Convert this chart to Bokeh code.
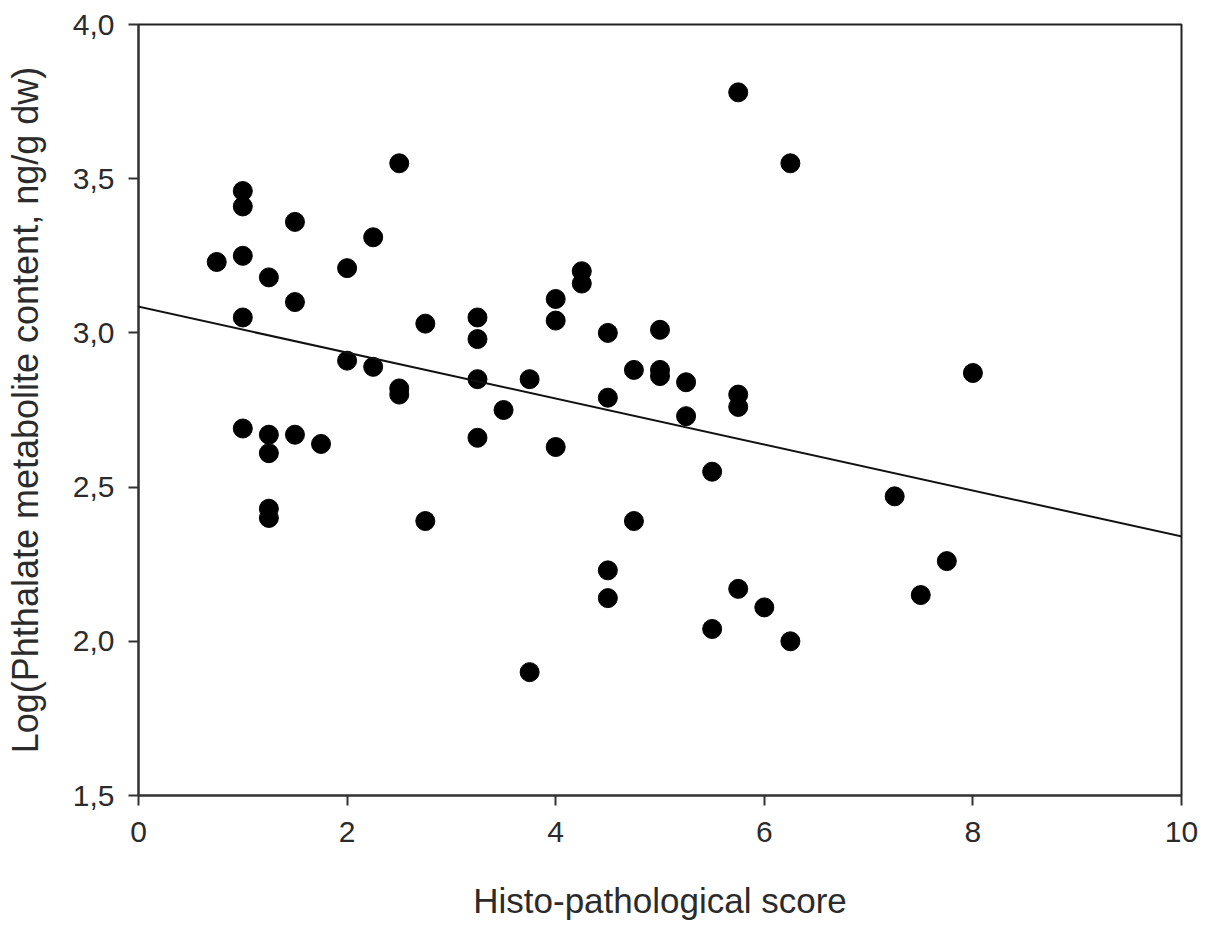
from bokeh.plotting import figure
from bokeh.models import FixedTicker, Slope, Range1d
from bokeh.embed import file_html
from bokeh.resources import INLINE

# Data
score = [0.75, 1.0, 1.0, 1.0, 1.0, 1.0,
         1.25, 1.25, 1.25, 1.25, 1.25,
         1.5, 1.5, 1.5, 1.75,
         2.0, 2.0, 2.25, 2.25,
         2.5, 2.5, 2.5, 2.75, 2.75,
         3.25, 3.25, 3.25, 3.25, 3.5,
         3.75, 3.75, 4.0, 4.0, 4.0,
         4.25, 4.25, 4.5, 4.5, 4.5, 4.5,
         4.75, 4.75, 5.0, 5.0, 5.0,
         5.25, 5.25, 5.5, 5.5,
         5.75, 5.75, 5.75, 5.75, 6.0,
         6.25, 6.25, 7.25, 7.5, 7.75, 8.0]
log_content = [3.23, 3.46, 3.41, 3.25, 3.05, 2.69,
               3.18, 2.67, 2.61, 2.43, 2.40,
               3.36, 3.10, 2.67, 2.64,
               3.21, 2.91, 3.31, 2.89,
               3.55, 2.82, 2.80, 3.03, 2.39,
               3.05, 2.98, 2.85, 2.66, 2.75,
               2.85, 1.90, 3.11, 3.04, 2.63,
               3.20, 3.16, 3.00, 2.79, 2.23, 2.14,
               2.88, 2.39, 3.01, 2.88, 2.86,
               2.84, 2.73, 2.55, 2.04,
               3.78, 2.80, 2.76, 2.17, 2.11,
               3.55, 2.00, 2.47, 2.15, 2.26, 2.87]

fit_intercept = 3.085
fit_slope = -0.0745

x_ticks = [0, 2, 4, 6, 8, 10]
x_tick_labels = ["0", "2", "4", "6", "8", "10"]
y_ticks = [1.5, 2.0, 2.5, 3.0, 3.5, 4.0]
y_tick_labels = ["1,5", "2,0", "2,5", "3,0", "3,5", "4,0"]

x_title = "Histo-pathological score"
y_title = "Log(Phthalate metabolite content, ng/g dw)"

FONT = "Liberation Sans"
TXT = "#2b2b2b"

W, H = 1198, 923
BL, BR, BT, BB = 138, 17, 24, 128

p = figure(width=W, height=H, output_backend="svg", toolbar_location=None,
           x_range=Range1d(0, 10), y_range=Range1d(1.5, 4.0),
           min_border_left=BL, min_border_right=BR, min_border_top=BT, min_border_bottom=BB)

p.scatter(score, log_content, size=19, color="black", line_color="black")
p.add_layout(Slope(gradient=fit_slope, y_intercept=fit_intercept, line_color="#111111", line_width=2))

p.grid.visible = False
p.outline_line_color = "#222222"
p.outline_line_width = 2
p.background_fill_color = "white"
p.border_fill_color = "white"

p.xaxis.ticker = FixedTicker(ticks=x_ticks)
p.xaxis.major_label_overrides = {t: l for t, l in zip(x_ticks, x_tick_labels)}
p.yaxis.ticker = FixedTicker(ticks=y_ticks)
p.yaxis.major_label_overrides = {t: l for t, l in zip(y_ticks, y_tick_labels)}

for ax in (p.xaxis[0], p.yaxis[0]):
    ax.axis_line_color = "#333333"
    ax.axis_line_width = 2
    ax.major_tick_line_color = "#333333"
    ax.major_tick_line_width = 2
    ax.major_tick_out = 10
    ax.major_tick_in = 0
    ax.minor_tick_line_color = None
    ax.major_label_text_font = FONT
    ax.major_label_text_font_size = "30px"
    ax.major_label_text_color = TXT
    ax.axis_label_text_font = FONT
    ax.axis_label_text_font_style = "normal"
    ax.axis_label_text_color = TXT

p.xaxis.axis_label = x_title
p.xaxis.axis_label_text_font_size = "35px"
p.xaxis.major_label_standoff = 16
p.xaxis.axis_label_standoff = 36

p.yaxis.axis_label = y_title
p.yaxis.axis_label_text_font_size = "36px"
p.yaxis.major_label_standoff = 14
p.yaxis.axis_label_standoff = 24

open("out.html", "w").write(file_html(p, INLINE))
